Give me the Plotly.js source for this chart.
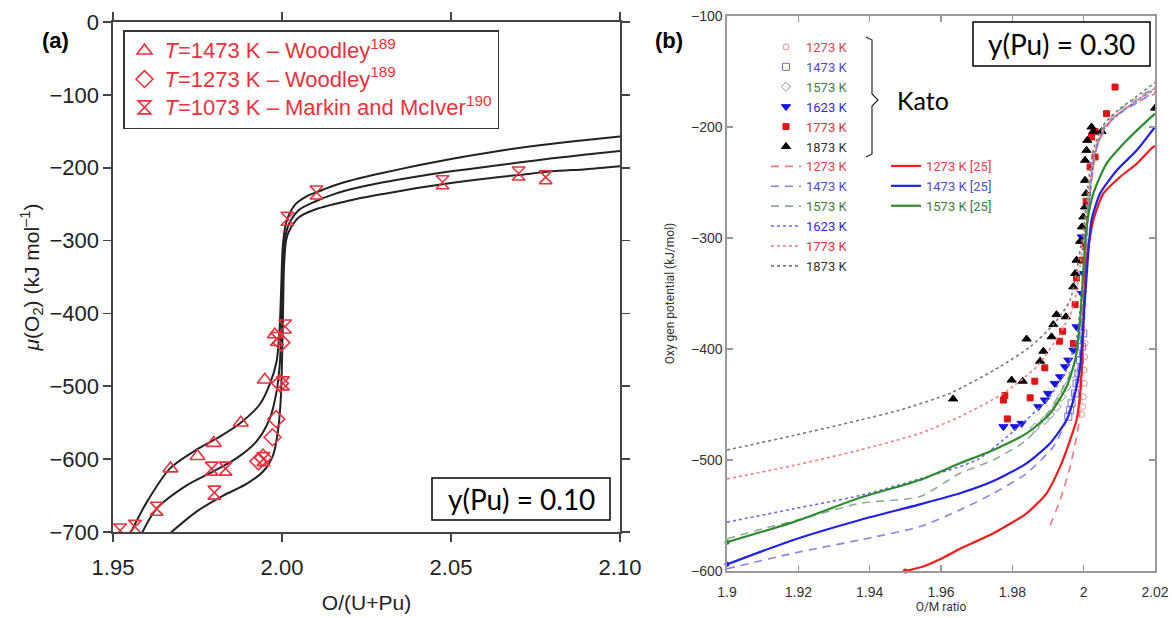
<!DOCTYPE html>
<html>
<head>
<meta charset="utf-8">
<script src="https://cdn.plot.ly/plotly-3.0.1.min.js"></script>
<style>html,body{margin:0;padding:0;background:#fff;}#chart{width:1172px;height:618px;}</style>
</head>
<body>
<div id="chart"></div>
<script>
// ---------------- Panel (a) data: y(Pu)=0.10 ----------------
const aCurveTopX = [1.955,1.960,1.9668,1.9747,1.9816,1.9875,1.9934,1.9964,1.9984,1.9993,1.9998,2.0002,2.001,2.002,2.004,2.007,2.010,2.015,2.02,2.03,2.04,2.05,2.06,2.07,2.08,2.09,2.10];
const aCurveTopY = [-703,-659,-613,-587,-569,-551,-525,-497,-466,-420,-360,-310,-280,-265,-250,-240,-234,-225,-218,-207,-197,-188,-180,-173,-167,-162,-157];
const aCurveMidX = [1.9585,1.9629,1.9718,1.9796,1.9865,1.9924,1.9964,1.9984,1.9994,1.9999,2.0003,2.001,2.002,2.005,2.01,2.015,2.02,2.03,2.04,2.05,2.06,2.07,2.08,2.09,2.10];
const aCurveMidY = [-702,-668,-636,-617,-599,-576,-544,-507,-466,-400,-330,-295,-278,-258,-246,-237,-230,-220,-212,-205,-199,-193,-187,-182,-177];
const aCurveBotX = [1.9668,1.9747,1.9826,1.9895,1.9944,1.9974,1.9989,1.9997,2.0000,2.0003,2.0006,2.0012,2.002,2.005,2.01,2.02,2.03,2.04,2.05,2.06,2.07,2.08,2.09,2.10];
const aCurveBotY = [-702,-672,-650,-634,-617,-594,-558,-512,-466,-400,-335,-300,-288,-268,-257,-245,-236,-228,-221,-215,-210,-205,-202,-198];

const a1473X = [1.9670,1.9750,1.9798,1.9878,1.9949,1.9979];
const a1473Y = [-613,-596,-578,-550,-491,-429];
const a1273X = [1.9930,1.9944,1.9972,1.9983,1.9994,1.9998];
const a1273Y = [-603,-598,-570,-545,-496,-440];
const a1073X = [1.9521,1.9565,1.9629,1.9792,1.9800,1.9833,1.9945,2.0003,1.9985,2.0009,2.0016,2.0102,2.0475,2.070,2.078];
const a1073Y = [-698,-693,-668,-613,-646,-613,-600,-496,-435,-418,-270,-234,-220,-208,-213];

const aNames = ['<i>T</i>=1473 K – Woodley<sup>189</sup>','<i>T</i>=1273 K – Woodley<sup>189</sup>','<i>T</i>=1073 K – Markin and McIver<sup>190</sup>'];

// ---------------- Panel (b) data: y(Pu)=0.30 ----------------
const kato1273X = [1.9994,1.9997,1.9999,2.0001,2.0001,2.0003,2.0004];
const kato1273Y = [-459,-452,-443,-431,-419,-407,-395];
const kato1473X = [1.9957,1.9962,1.9966,1.9976,1.9980,1.9985,1.9990,1.9995,1.9999];
const kato1473Y = [-461,-455,-449,-440,-431,-422,-410,-398,-386];
const kato1573X = [1.9863,1.9891,1.9906,1.9924,1.9938,1.9952,1.9971];
const kato1573Y = [-471,-464,-459,-452,-443,-434,-422];
const kato1623X = [1.9775,1.9807,1.9826,1.9873,1.9891,1.9900,1.9919,1.9934,1.9948,1.9957,1.9971,1.9980,1.9995,1.9999,1.9995];
const kato1623Y = [-470,-470,-467,-452,-446,-440,-431,-425,-416,-410,-401,-380,-350,-332,-299];
const kato1773X = [1.9775,1.9779,1.9786,1.9850,1.9863,1.9891,1.9932,1.9941,1.9971,1.9976,1.9980,1.9995,2.0004,2.0007,2.0018,2.0032,2.0022,2.0032,2.0064,2.0088];
const kato1773Y = [-446,-442,-463,-444,-429,-417,-393,-384,-395,-360,-336,-320,-308,-267,-236,-227,-209,-204,-188,-164];
const kato1873X = [1.9634,1.9798,1.9829,1.9840,1.9878,1.9887,1.9910,1.9915,1.9924,1.9950,1.9971,1.9976,1.9980,1.9990,1.9995,1.9999,2.0004,2.0007,2.0004,2.0004,2.0008,2.0010,2.0022,2.0027,2.0050,2.0200];
const kato1873Y = [-445,-428,-429,-391,-411,-402,-389,-378,-369,-371,-344,-332,-320,-303,-290,-281,-272,-260,-248,-230,-221,-212,-200,-204,-204,-183];

// dashed (1273,1473,1573) and dotted (1623,1773,1873) model curves
const dash1273X = [1.9906,1.9934,1.9962,1.9985,1.9994,2.0001,2.0006,2.0015,2.004,2.008,2.012,2.016,2.02];
const dash1273Y = [-559,-536,-506,-470,-431,-386,-330,-270,-215,-193,-183,-176,-170];
const dash1473X = [1.9,1.9186,1.9373,1.9541,1.9653,1.9747,1.984,1.9915,1.9952,1.9976,1.999,2.0003,2.0012,2.003,2.006,2.01,2.015,2.02];
const dash1473Y = [-598,-584,-572,-560,-545,-530,-512,-488,-464,-434,-401,-340,-280,-225,-200,-188,-178,-168];
const dash1573X = [1.9,1.91,1.9186,1.9373,1.9541,1.9653,1.9747,1.984,1.9887,1.9934,1.9971,1.999,2.0003,2.0012,2.003,2.006,2.01,2.015,2.02];
const dash1573Y = [-571,-562,-555,-539,-533,-512,-500,-482,-464,-440,-416,-386,-330,-275,-222,-198,-185,-174,-164];
const dot1623X = [1.9,1.9186,1.9373,1.9541,1.97,1.98,1.99,1.995,1.998,2.0,2.0015,2.003,2.006,2.01,2.015,2.02];
const dot1623Y = [-556,-544,-532,-517,-500,-475,-445,-420,-390,-330,-270,-225,-200,-188,-176,-166];
const dot1773X = [1.9,1.9186,1.9373,1.9541,1.9653,1.9775,1.9868,1.9934,1.9971,2.0,2.0015,2.003,2.006,2.01,2.015,2.02];
const dot1773Y = [-517,-505,-491,-476,-461,-440,-416,-386,-362,-300,-255,-222,-200,-187,-176,-165];
const dot1873X = [1.9,1.9186,1.9373,1.9485,1.9625,1.9765,1.985,1.9915,1.9962,2.0,2.0015,2.003,2.006,2.01,2.015,2.02];
const dot1873Y = [-491,-478,-464,-455,-440,-416,-398,-378,-356,-290,-245,-217,-196,-184,-172,-160];

// solid curves from ref [25]
const sol1273X = [1.95,1.955,1.96,1.9653,1.9747,1.984,1.9896,1.9934,1.9962,1.998,1.999,1.9997,2.0001,2.0008,2.0027,2.0055,2.0102,2.0149,2.0191,2.02];
const sol1273Y = [-600,-596,-589,-580,-566,-548,-530,-506,-482,-464,-440,-401,-360,-320,-284,-260,-245,-233,-219,-217];
const sol1473X = [1.9,1.9186,1.9373,1.9541,1.9653,1.9747,1.984,1.9906,1.9952,1.9976,1.999,1.9997,2.0008,2.0022,2.0046,2.0093,2.0149,2.02];
const sol1473Y = [-594,-572,-554,-540,-530,-519,-503,-485,-464,-440,-416,-386,-335,-284,-260,-239,-221,-200];
const sol1573X = [1.9,1.9186,1.9373,1.9541,1.9653,1.9747,1.984,1.9906,1.9952,1.9976,1.999,2.0008,2.0027,2.0064,2.0121,2.0186,2.02];
const sol1573Y = [-574,-556,-534,-518,-503,-491,-476,-458,-434,-410,-374,-290,-260,-233,-212,-192,-188];

const tempLabels = ['1273 K','1473 K','1573 K','1623 K','1773 K','1873 K'];
const labelColors = ['#e5404f','#4b4bd6','#3f7d3f','#2b2bd8','#e0303c','#333333'];
const panelNotes = ['y(Pu) = 0.10','y(Pu) = 0.30'];

// ---------------- helpers ----------------
const W = 1172, H = 618;
const px = v => v / W;
const py = v => 1 - v / H;
const FAM = "Arial, Liberation Sans, sans-serif";
const FAMB = "Roboto, Arial, sans-serif";
const CAL = "Lato, Open Sans, sans-serif";
const lbl = (i, extra) => '<span style="color:' + labelColors[i] + '">' + tempLabels[i] + (extra || '') + '</span>';
const bigA = s => '<span style="font-size:22px">' + s + '</span>';

const RED_A = '#e8323c';
const traces = [];

// panel (a) black curves
[[aCurveTopX,aCurveTopY],[aCurveMidX,aCurveMidY],[aCurveBotX,aCurveBotY]].forEach(c => {
  traces.push({x:c[0], y:c[1], xaxis:'x', yaxis:'y', mode:'lines', showlegend:false, hoverinfo:'skip',
    line:{color:'#222', width:2, shape:'spline', smoothing:0.8}});
});
// panel (a) markers
[[a1473X,a1473Y,'triangle-up-open'],[a1273X,a1273Y,'diamond-open'],[a1073X,a1073Y,'hourglass-open']].forEach((m,i) => {
  traces.push({x:m[0], y:m[1], xaxis:'x', yaxis:'y', mode:'markers', name:bigA(aNames[i]), legend:'legend',
    marker:{symbol:m[2], size:13, color:RED_A, line:{width:1.6, color:RED_A}}});
});

// panel (b) Kato markers
const katoSets = [
  [kato1273X,kato1273Y,'circle-open','#ee8a8a',6],
  [kato1473X,kato1473Y,'square-open','#6f6fe0',7],
  [kato1573X,kato1573Y,'diamond-open','#7f9a7f',7],
  [kato1623X,kato1623Y,'triangle-down','#1414e0',8],
  [kato1773X,kato1773Y,'square','#e01414',6],
  [kato1873X,kato1873Y,'triangle-up','#000000',8]
];
katoSets.forEach((k,i) => {
  traces.push({x:k[0], y:k[1], xaxis:'x2', yaxis:'y2', mode:'markers', name:lbl(i), legend:'legend2',
    marker:{symbol:k[2], size:k[4], color:k[3], line:{width:1, color:k[3]}}});
});
// dashed / dotted curves
const modelSets = [
  [dash1273X,dash1273Y,'#f07a7a','8px,6px'],
  [dash1473X,dash1473Y,'#8585e8','8px,6px'],
  [dash1573X,dash1573Y,'#8fae8f','8px,6px'],
  [dot1623X,dot1623Y,'#6a6aee','3px,3px'],
  [dot1773X,dot1773Y,'#f07f7f','3px,3px'],
  [dot1873X,dot1873Y,'#7a7a7a','3px,3px']
];
modelSets.forEach((s,i) => {
  traces.push({x:s[0], y:s[1], xaxis:'x2', yaxis:'y2', mode:'lines', name:lbl(i), legend:'legend2',
    line:{color:s[2], width:1.6, dash:s[3], shape:'spline', smoothing:0.6}});
});
// solid [25]
const solidSets = [[sol1273X,sol1273Y,'#f21c1c',0],[sol1473X,sol1473Y,'#2222e6',1],[sol1573X,sol1573Y,'#2e8b2e',2]];
solidSets.forEach(s => {
  traces.push({x:s[0], y:s[1], xaxis:'x2', yaxis:'y2', mode:'lines', name:lbl(s[3],' [25]'), legend:'legend3',
    line:{color:s[2], width:2.2, shape:'spline', smoothing:0.6}});
});
// start dots on solid curves
traces.push({x:[sol1273X[0], sol1473X[0], sol1573X[0]], y:[sol1273Y[0], sol1473Y[0], sol1573Y[0]], xaxis:'x2', yaxis:'y2',
  mode:'markers', showlegend:false, hoverinfo:'skip', marker:{size:5, color:['#f21c1c','#2222e6','#2e8b2e']}, cliponaxis:false});

const AX_A = '#444';
const AX_B = '#999';
const tickA = {family:FAM, size:22, color:'#222'};
const titleA = {family:FAM, size:21, color:'#222'};
const tickB = {family:FAM, size:14, color:'#333'};
const titleB = {family:FAMB, size:12, color:'#333'};

// bracket path for "Kato"
const bp = [[866,37],[872,40],[872,94],[878,100],[872,106],[872,154],[866,157]];
const bracketPath = 'M' + bp.map(p => px(p[0]).toFixed(5) + ',' + py(p[1]).toFixed(5)).join(' L');

const layout = {
  width: W, height: H,
  margin: {l:0, r:0, t:0, b:0},
  paper_bgcolor: '#fff', plot_bgcolor: '#fff',
  showlegend: true,
  font: {family:FAM},
  xaxis: {domain:[px(113), px(620)], range:[1.95, 2.10], dtick:0.05, tick0:1.95, tickformat:'.2f',
    showline:true, linecolor:AX_A, linewidth:1.6, mirror:'ticks', ticks:'outside', ticklen:8, tickwidth:1.6, tickcolor:AX_A,
    showgrid:false, zeroline:false, tickfont:tickA, ticklabelstandoff:7,
    title:{text:'O/(U+Pu)', font:titleA, standoff:16}},
  yaxis: {domain:[py(532), py(22)], range:[-700, 0], dtick:100,
    showline:true, linecolor:AX_A, linewidth:1.6, mirror:'ticks', ticks:'outside', ticklen:8, tickwidth:1.6, tickcolor:AX_A,
    showgrid:false, zeroline:false, tickfont:tickA,
    title:{text:'<i>μ</i>(O<sub>2</sub>) (kJ mol<sup>–1</sup>)', font:titleA, standoff:4}},
  xaxis2: {domain:[px(727), px(1155)], range:[1.9, 2.02], dtick:0.02, tick0:1.9, anchor:'y2',
    showline:true, linecolor:AX_B, linewidth:1.6, mirror:'ticks', ticks:'inside', ticklen:6, tickwidth:1.2, tickcolor:AX_B,
    showgrid:false, zeroline:false, tickfont:tickB, ticklabelstandoff:8,
    title:{text:'O/M ratio', font:titleB, standoff:2}},
  yaxis2: {domain:[py(571), py(16)], range:[-600, -100], dtick:100, anchor:'x2',
    showline:true, linecolor:AX_B, linewidth:1.6, mirror:'ticks', ticks:'inside', ticklen:6, tickwidth:1.2, tickcolor:AX_B,
    showgrid:false, zeroline:false, tickfont:tickB,
    title:{text:'Oxy gen potential (kJ/mol)', font:titleB, standoff:14}},
  legend: {x:px(123), y:py(30), xanchor:'left', yanchor:'top', bgcolor:'#fff', bordercolor:'#333', borderwidth:1.5,
    font:{family:FAM, size:19.5, color:RED_A}, tracegroupgap:0, itemwidth:30},
  legend2: {x:px(766), y:py(32), xanchor:'left', yanchor:'top', bgcolor:'rgba(0,0,0,0)', borderwidth:0,
    font:{family:FAMB, size:13, color:'#333'}, tracegroupgap:0, itemwidth:30},
  legend3: {x:px(886), y:py(151), xanchor:'left', yanchor:'top', bgcolor:'rgba(0,0,0,0)', borderwidth:0,
    font:{family:FAMB, size:13, color:'#333'}, tracegroupgap:0, itemwidth:30},
  shapes: [
    {type:'path', xref:'paper', yref:'paper', path:bracketPath, line:{color:'#222', width:1.2}},
    {type:'rect', xref:'paper', yref:'paper', x0:px(432), x1:px(610), y0:py(520), y1:py(478),
      line:{color:'#000', width:1.5}, fillcolor:'#fff', layer:'above'},
    {type:'rect', xref:'paper', yref:'paper', x0:px(973), x1:px(1150), y0:py(66), y1:py(22),
      line:{color:'#000', width:1.5}, fillcolor:'#fff', layer:'above'}
  ],
  annotations: [
    {xref:'paper', yref:'paper', x:px(55), y:py(40), xanchor:'center', yanchor:'middle', text:'<b>(a)</b>', showarrow:false,
      font:{family:FAM, size:22, color:'#000'}},
    {xref:'paper', yref:'paper', x:px(669), y:py(40), xanchor:'center', yanchor:'middle', text:'<b>(b)</b>', showarrow:false,
      font:{family:FAM, size:22, color:'#000'}},
    {xref:'paper', yref:'paper', x:px(521), y:py(499), xanchor:'center', yanchor:'middle', text:panelNotes[0], showarrow:false,
      font:{family:CAL, size:28, color:'#000'}},
    {xref:'paper', yref:'paper', x:px(1061), y:py(44), xanchor:'center', yanchor:'middle', text:panelNotes[1], showarrow:false,
      font:{family:CAL, size:28, color:'#000'}},
    {xref:'paper', yref:'paper', x:px(895), y:py(100), xanchor:'left', yanchor:'middle', text:'Kato', showarrow:false,
      font:{family:CAL, size:25, color:'#000'}}
  ]
};

Plotly.newPlot('chart', traces, layout, {displayModeBar:false, staticPlot:true});
</script>
</body>
</html>
